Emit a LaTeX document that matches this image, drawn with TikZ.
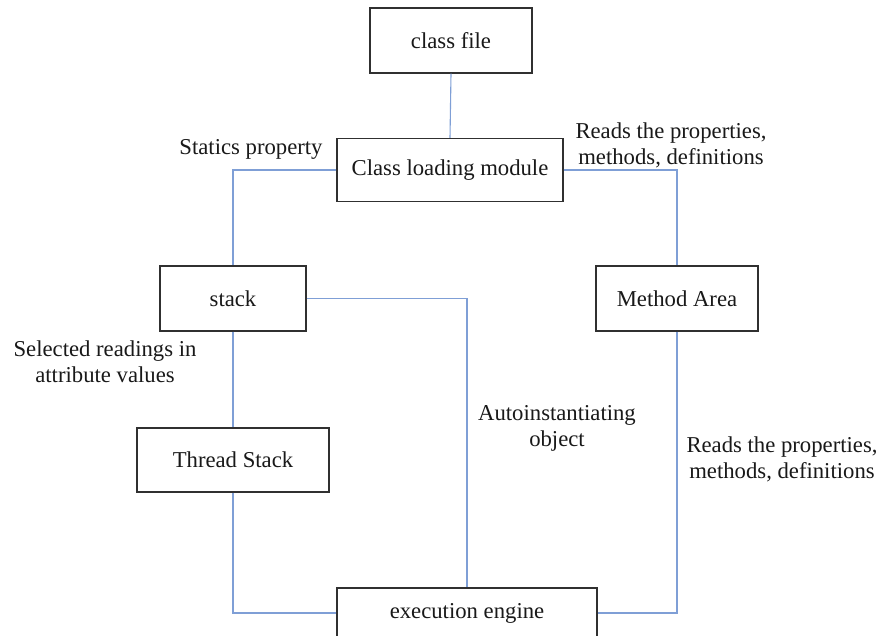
\documentclass[tikz,border=0pt]{standalone}
\usepackage{fontspec}
\setmainfont{Liberation Serif}
\usepackage{xcolor}
\definecolor{linkblue}{HTML}{7F9FD6}
\definecolor{boxgray}{HTML}{303030}
\tikzset{
  line/.style={draw=linkblue, line width=1.1pt},
  box/.style={draw=boxgray, line width=1.2pt, align=center, inner sep=0pt, font=\fontsize{22.7}{26}\selectfont, text=black!90},
  note/.style={align=center, inner sep=0pt, font=\fontsize{22.7}{26}\selectfont, text=black!90}
}
\begin{document}
\begin{tikzpicture}[x=1pt, y=-1pt]
  \clip (0,0) rectangle (880,635);
  \fill[white] (0,0) rectangle (880,635);
  % Boxes
  \node[box, minimum width=162pt, minimum height=65pt] (cfile) at (451,40.5) {class file};
  \node[box, minimum width=226pt, minimum height=63pt] (loader) at (450,170) {Class loading module};
  \node[box, minimum width=146pt, minimum height=65pt] (stack) at (233,298.5) {stack};
  \node[box, minimum width=162pt, minimum height=65pt] (marea) at (677,298.5) {Method Area};
  \node[box, minimum width=192pt, minimum height=64pt] (tstack) at (233,460) {Thread Stack};
  \node[box, minimum width=260pt, minimum height=50pt] (engine) at (467,613) {execution engine};

  % Labels
  \node[note] (statics) at (251,149) {Statics property};
  \node[note] (readtop) at (671,145) {Reads the properties,\\methods, definitions};
  \node[note] (selected) at (105,362) {Selected readings in\\attribute values};
  \node[note] (autoinst) at (557,428) {Autoinstantiating\\object};
  \node[note] (readbot) at (782,459) {Reads the properties,\\methods, definitions};

  % Connections (orthogonal)
  \draw[line] (cfile.south) -- (loader.north);
  \draw[line] (loader.west) -| (stack.north);
  \draw[line] (loader.east) -| (marea.north);
  \draw[line] (stack.east) -| (engine.north);
  \draw[line] (stack.south) -- (tstack.north);
  \draw[line] (tstack.south) |- (engine.west);
  \draw[line] (marea.south) |- (engine.east);
\end{tikzpicture}
\end{document}
